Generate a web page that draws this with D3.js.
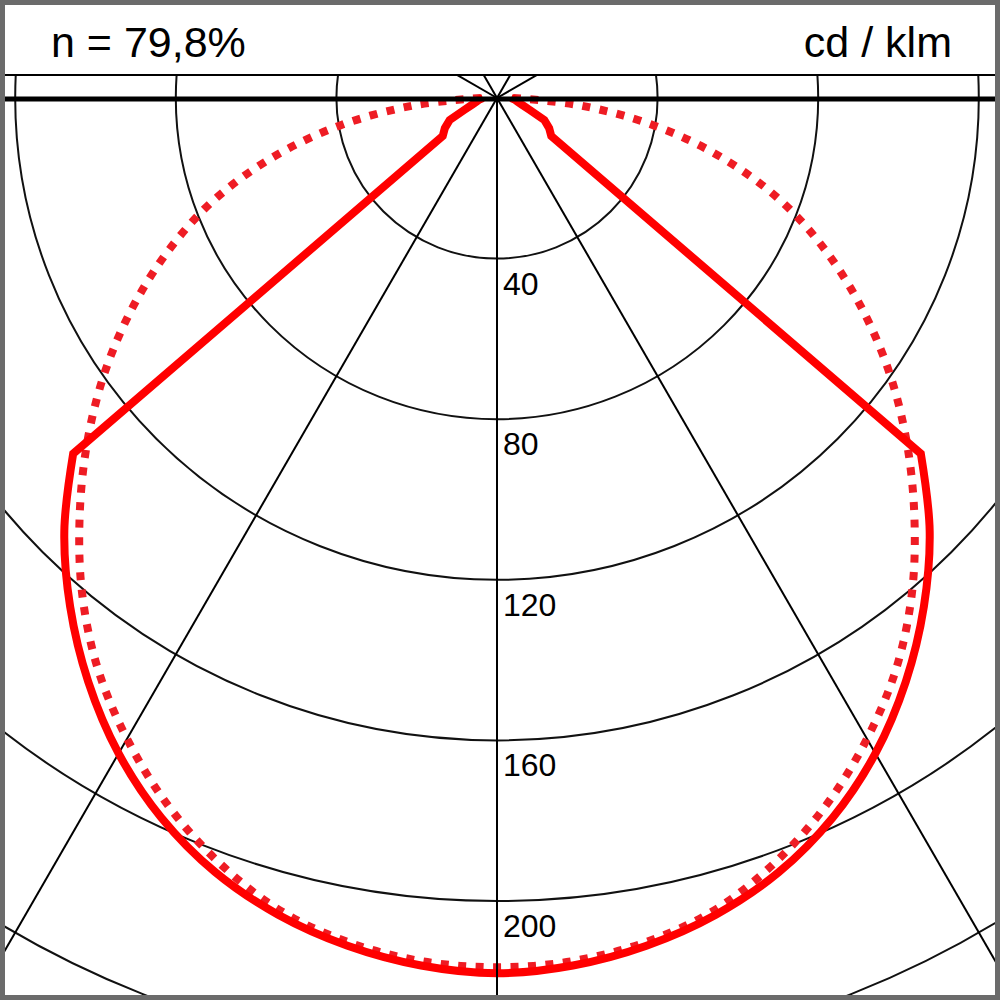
<!DOCTYPE html>
<html><head><meta charset="utf-8">
<script src="https://cdn.jsdelivr.net/npm/d3@7"></script>
<style>html,body{margin:0;padding:0;background:#fff}svg{display:block}</style>
</head><body>
<svg id="chart" width="1000" height="1000"></svg>
<script>
// ---- data ----
const efficiencyText = "n = 79,8%";
const unitText = "cd / klm";
const gammaAngles = [0,5,10,15,20,25,30,35,40,45,50,55,60,65,70,75,80,85,90];
// solid curve: C0 (right half) and C180 (left half), cd/klm
const planeC0   = [218,216.9,214.4,210.6,205.2,197.8,188.5,177.5,165.4,152.4,137.8,16.5,15,13,8.6,6.4,5.2,4.4,3.5];
const planeC180 = [218,216.9,214.4,210.6,205.2,197.8,188.5,177.5,165.4,152.4,137.8,16.5,15,13,8.6,6.4,5.2,4.4,3.5];
// dotted curve: C90 (right half) and C270 (left half), cd/klm
const planeC90  = [216.5,215.8,213.5,209.4,202.6,194.2,184.3,173.4,160.8,147,133.2,119.3,105,90.5,75.5,58.5,40,20.5,4];
const planeC270 = [216.5,215.8,213.5,209.4,202.6,194.2,184.3,173.4,160.8,147,133.2,119.3,105,90.5,75.5,58.5,40,20.5,4];
const ringValues = [40,80,120,160,200,240];
const ringLabels = ["40","80","120","160","200"];
const spokesLower = [-30,30];          // degrees from nadir
const spokesUpper = [-150,-120,120,150];

// ---- layout ----
const W = 1000, H = 1000;
const cx = 497, cy = 98;
const r = d3.scaleLinear().domain([0,200]).range([0,803]);
const svg = d3.select("#chart");

svg.append("rect").attr("x",0).attr("y",0).attr("width",W).attr("height",H).attr("fill","#fff");

const defs = svg.append("defs");
defs.append("clipPath").attr("id","plotClip")
  .append("rect").attr("x",5).attr("y",75).attr("width",990).attr("height",920);

const plot = svg.append("g").attr("clip-path","url(#plotClip)");
const g = plot.append("g").attr("transform",`translate(${cx},${cy})`);

// rings
g.selectAll("circle.ring").data(ringValues).join("circle")
  .attr("class","ring").attr("r",d=>r(d))
  .attr("fill","none").attr("stroke","#111").attr("stroke-width",2);

// spokes (angle in degrees from nadir, positive to the right)
const rad = a => a*Math.PI/180;
const far = 2000;
g.selectAll("line.spoke").data(spokesLower.concat(spokesUpper)).join("line")
  .attr("class","spoke")
  .attr("x1",0).attr("y1",0)
  .attr("x2",d=>Math.sin(rad(d))*far).attr("y2",d=>Math.cos(rad(d))*far)
  .attr("stroke","#000").attr("stroke-width",2);

// header line and horizontal 90° line
svg.append("line").attr("x1",5).attr("x2",995).attr("y1",75).attr("y2",75)
  .attr("stroke","#000").attr("stroke-width",2);
svg.append("line").attr("x1",5).attr("x2",995).attr("y1",cy+1).attr("y2",cy+1)
  .attr("stroke","#000").attr("stroke-width",5);

// curves
function halfPlanes(left, right){
  const pts = [];
  for (let i = gammaAngles.length-1; i >= 0; i--) pts.push({a:-gammaAngles[i], v:left[i]});
  for (let i = 1; i < gammaAngles.length; i++) pts.push({a:gammaAngles[i], v:right[i]});
  return pts;
}
const straight = d3.lineRadial()
  .angle(d => Math.PI - rad(d.a))
  .radius(d => r(d.v));
const smooth = d3.lineRadial()
  .angle(d => Math.PI - rad(d.a))
  .radius(d => r(d.v))
  .curve(d3.curveCatmullRom.alpha(0.5));

// dotted: smooth all the way
g.append("path").datum(halfPlanes(planeC270, planeC90))
  .attr("d",smooth).attr("fill","none")
  .attr("stroke","#ee1c24").attr("stroke-width",8)
  .attr("stroke-dasharray","8 9.5");

// solid: smooth main lobe, straight segments outside ±50°
const solidPts = halfPlanes(planeC180, planeC0);
const leftPart  = solidPts.filter(d => d.a <= -55);
const midPart   = solidPts.filter(d => d.a >= -50 && d.a <= 50);
const rightPart = solidPts.filter(d => d.a >= 55);
const solidD = straight(leftPart) + smooth(midPart).replace(/^M/,"L") + straight(rightPart).replace(/^M/,"L");
g.append("path").attr("d",solidD).attr("fill","none")
  .attr("stroke","#ff0000").attr("stroke-width",8)
  .attr("stroke-linejoin","miter");

// vertical axis (0°) on top
g.append("line").attr("x1",0).attr("y1",0).attr("x2",0).attr("y2",far)
  .attr("stroke","#000").attr("stroke-width",2);

// ring labels
g.selectAll("text.rl").data(ringLabels).join("text")
  .attr("class","rl")
  .attr("x",6).attr("y",d=>r(+d)+36)
  .attr("font-family","'Liberation Sans', Arial, sans-serif")
  .attr("font-size",32).attr("fill","#000")
  .text(d=>d);

// header texts
svg.append("text").attr("x",51).attr("y",57)
  .attr("font-family","'Liberation Sans', Arial, sans-serif")
  .attr("font-size",43).attr("fill","#000").text(efficiencyText);
svg.append("text").attr("x",952).attr("y",57).attr("text-anchor","end")
  .attr("font-family","'Liberation Sans', Arial, sans-serif")
  .attr("font-size",43).attr("fill","#000").text(unitText);

// frame
svg.append("rect").attr("x",2.5).attr("y",2.5).attr("width",995).attr("height",995)
  .attr("fill","none").attr("stroke","#6b6b6b").attr("stroke-width",5);
</script>
</body></html>
